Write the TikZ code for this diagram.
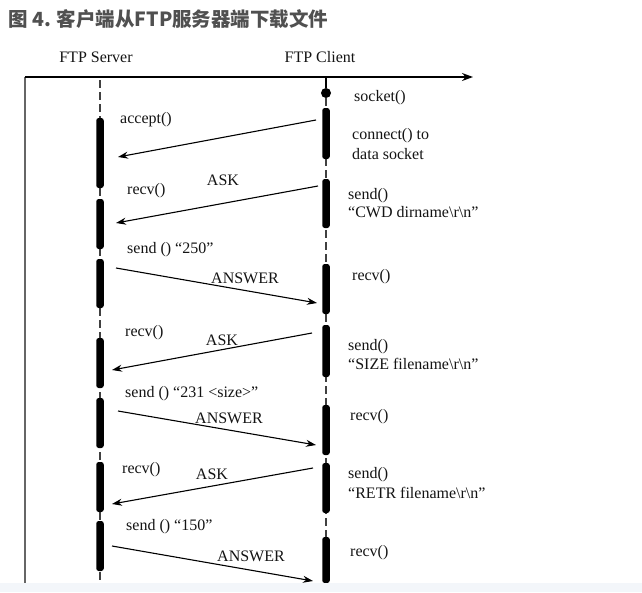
\documentclass[tikz,border=0pt]{standalone}
\usepackage{fontspec}
\setmainfont{Liberation Serif}
\newfontfamily\cjk{Noto Sans CJK SC}
\usetikzlibrary{arrows.meta}
\definecolor{titlegray}{RGB}{80,80,80}
\definecolor{bandcol}{RGB}{243,246,250}
\definecolor{inkcol}{RGB}{20,20,20}
\tikzset{
  lifeline/.style={draw=black!75, line width=1.3pt, dash pattern=on 8pt off 4pt},
  actbar/.style={fill=black, rounded corners=2.5pt, minimum width=7.5pt, inner sep=0pt, draw=none},
  msg/.style={draw=black, line width=1.1pt, -{Stealth[length=10pt,width=7pt]}},
  lbl/.style={anchor=west, inner sep=0pt, text=inkcol, font=\fontsize{16}{18}\selectfont},
  clbl/.style={inner sep=0pt, text=inkcol, font=\fontsize{16}{18}\selectfont},
  axisline/.style={draw=black, line width=1.3pt, -{Stealth[length=11pt,width=8pt]}},
  frameline/.style={draw=black!60, line width=1.2pt}
}
\begin{document}
\begin{tikzpicture}[x=1pt,y=-1pt]
\useasboundingbox (0,0) rectangle (642,592);
\fill[white] (0,0) rectangle (642,592);
% title
\node[anchor=west, inner sep=0pt, text=titlegray, font=\cjk\bfseries\fontsize{19.5}{21}\selectfont] (title) at (8,19) {图 4. 客户端从FTP服务器端下载文件};
% headers
\node[clbl] (hs) at (96,57) {FTP Server};
\node[clbl] (hc) at (320,57) {FTP Client};
% axes
\coordinate (o) at (25,77);
\coordinate (ax) at (473,77);
\coordinate (ob) at (25,583);
\draw[frameline] (o) -- (ob);
\draw[axisline] (o) -- (ax);
% lifelines
\coordinate (stop) at (100,80);
\coordinate (sbot) at (100,583);
\draw[lifeline] (stop) -- (sbot);
\coordinate (ctop) at (326,77);
\coordinate (cbot) at (326,583);
\node[circle, fill=black, minimum size=10pt, inner sep=0pt] (dot) at (326,93) {};
\draw[line width=1.3pt] (ctop) -- (dot);
\draw[lifeline] (dot) -- (cbot);
% server bars
\node[actbar, minimum height=70pt] (s1) at (100,153) {};
\node[actbar, minimum height=50pt] (s2) at (100,224) {};
\node[actbar, minimum height=49pt] (s3) at (100,283.5) {};
\node[actbar, minimum height=50pt] (s4) at (100,363) {};
\node[actbar, minimum height=50pt] (s5) at (100,423) {};
\node[actbar, minimum height=50pt] (s6) at (100,487) {};
\node[actbar, minimum height=50pt] (s7) at (100,546) {};
% client bars
\node[actbar, minimum height=51pt] (c1) at (326,133.5) {};
\node[actbar, minimum height=49pt] (c2) at (326,203.5) {};
\node[actbar, minimum height=50pt] (c3) at (326,289) {};
\node[actbar, minimum height=52pt] (c4) at (326,351) {};
\node[actbar, minimum height=50pt] (c5) at (326,430) {};
\node[actbar, minimum height=50pt] (c6) at (326,488) {};
\node[actbar, minimum height=46pt] (c7) at (326,560) {};
% message end points
\coordinate (a1s) at (316,120);  \coordinate (a1e) at (118,157);
\coordinate (a2s) at (318,186);  \coordinate (a2e) at (116,223);
\coordinate (a3s) at (116,268);  \coordinate (a3e) at (317,303);
\coordinate (a4s) at (312,333);  \coordinate (a4e) at (112,370);
\coordinate (a5s) at (118,411);  \coordinate (a5e) at (316,445);
\coordinate (a6s) at (313,468);  \coordinate (a6e) at (112,504);
\coordinate (a7s) at (112,546);  \coordinate (a7e) at (313,581);
\draw[msg] (a1s) -- (a1e);
\draw[msg] (a2s) -- (a2e);
\draw[msg] (a3s) -- (a3e);
\draw[msg] (a4s) -- (a4e);
\draw[msg] (a5s) -- (a5e);
\draw[msg] (a6s) -- (a6e);
\draw[msg] (a7s) -- (a7e);
% labels
\node[lbl] (l1) at (120,120) {accept()};
\node[lbl] (l2) at (354,98) {socket()};
\node[lbl] (l3) at (352,136) {connect() to};
\node[lbl] (l4) at (352,154) {data socket};
\node[clbl] (l5) at (223,180) {ASK};
\node[lbl] (l6) at (127,191) {recv()};
\node[lbl] (l7) at (348,196) {send()};
\node[lbl] (l8) at (348,212) {“CWD dirname\textbackslash r\textbackslash n”};
\node[lbl] (l9) at (127,250) {send () “250”};
\node[clbl] (l10) at (245,278) {ANSWER};
\node[lbl] (l11) at (352,277) {recv()};
\node[lbl] (l12) at (125,333) {recv()};
\node[clbl] (l13) at (222,340) {ASK};
\node[lbl] (l14) at (348,347) {send()};
\node[lbl] (l15) at (348,364) {“SIZE filename\textbackslash r\textbackslash n”};
\node[lbl] (l16) at (125,394) {send () “231 <size>”};
\node[clbl] (l17) at (229,418) {ANSWER};
\node[lbl] (l18) at (350,417) {recv()};
\node[lbl] (l19) at (122,470) {recv()};
\node[clbl] (l20) at (212,474) {ASK};
\node[lbl] (l21) at (348,475) {send()};
\node[lbl] (l22) at (348,493) {“RETR filename\textbackslash r\textbackslash n”};
\node[lbl] (l23) at (126,527) {send () “150”};
\node[clbl] (l24) at (251,556) {ANSWER};
\node[lbl] (l25) at (350,553) {recv()};
% bottom band
\fill[bandcol] (0,583) rectangle (642,592);
\end{tikzpicture}
\end{document}
